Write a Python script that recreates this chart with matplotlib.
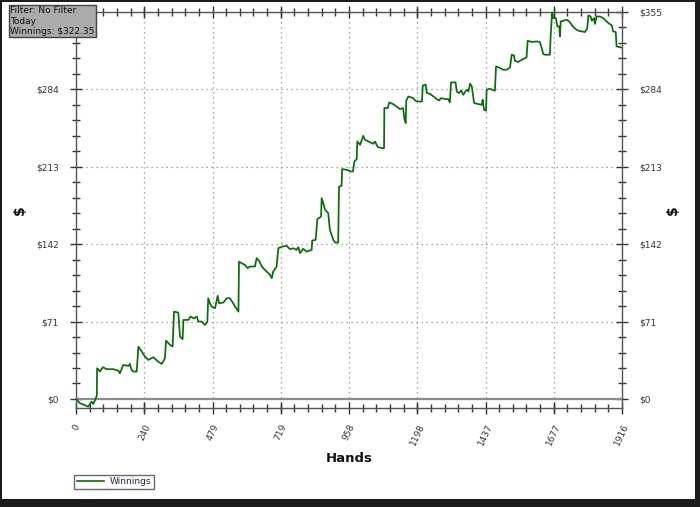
import matplotlib.pyplot as plt
from matplotlib.patches import Rectangle
from matplotlib.lines import Line2D
from matplotlib.ticker import FixedLocator, MultipleLocator

# cumulative winnings, hand number vs dollars
hands = [0, 14, 43, 49, 55, 61, 67, 73, 74, 84, 94, 108, 131, 148, 154, 166, 184, 189, 195, 201,
         213, 219, 231, 242, 254, 271, 289, 301, 312, 316, 330, 339, 344, 359, 365, 374, 377, 394,
         402, 414, 424, 429, 441, 453, 461, 464, 470, 476, 488, 497, 502, 517, 529, 540, 548, 558,
         570, 572, 581, 593, 602, 611, 628, 634, 642, 652, 663, 681, 687, 692, 704, 710, 724, 739,
         751, 762, 774, 780, 786, 797, 810, 827, 829, 841, 847, 860, 862, 868, 874, 885, 891, 903,
         909, 920, 923, 932, 934, 950, 965, 972, 977, 985, 987, 997, 1008, 1014, 1026, 1043, 1049,
         1059, 1073, 1081, 1082, 1094, 1099, 1113, 1125, 1137, 1148, 1152, 1157, 1159, 1166, 1184,
         1190, 1199, 1214, 1217, 1227, 1231, 1242, 1254, 1266, 1274, 1281, 1295, 1306, 1312, 1316,
         1332, 1336, 1344, 1351, 1359, 1371, 1377, 1383, 1389, 1397, 1412, 1424, 1427, 1432, 1439,
         1441, 1453, 1470, 1474, 1488, 1499, 1511, 1523, 1529, 1537, 1540, 1552, 1564, 1581, 1585,
         1599, 1617, 1628, 1634, 1640, 1646, 1663, 1666, 1671, 1674, 1684, 1689, 1696, 1698, 1701,
         1710, 1722, 1731, 1739, 1751, 1763, 1775, 1786, 1794, 1798, 1806, 1810, 1818, 1821, 1827,
         1839, 1850, 1856, 1868, 1880, 1885, 1894, 1897, 1916]
winnings = [0, -3.9, -7.1, -4.6, -2.5, -4.6, -0.9, 3.0, 28.2, 25.1, 29.1, 27.3, 27.3, 26.0, 23.6,
            31.2, 30.3, 32.1, 26.6, 25.1, 25.1, 48.0, 43.4, 38.8, 35.8, 38.3, 34.2, 32.1, 37.4,
            53.5, 49.6, 48.0, 80.1, 79.2, 57.2, 54.8, 72.5, 72.5, 75.6, 73.9, 75.6, 71.0, 71.0,
            67.9, 71.0, 92.4, 87.9, 84.7, 83.3, 94.6, 87.9, 88.4, 92.4, 92.4, 89.3, 84.7, 80.1,
            126.0, 124.6, 123.0, 120.0, 121.5, 121.5, 129.2, 127.0, 121.5, 118.4, 113.8, 110.8,
            116.9, 121.5, 138.3, 139.8, 140.5, 137.4, 138.3, 136.8, 139.3, 133.8, 137.7, 135.2,
            136.8, 145.3, 146.0, 165.0, 167.3, 184.2, 179.6, 173.5, 170.5, 155.1, 146.0, 143.5,
            143.5, 194.9, 195.5, 210.9, 210.2, 208.7, 208.7, 217.8, 220.0, 236.2, 233.2, 241.4,
            237.8, 236.2, 234.1, 236.2, 231.1, 230.1, 230.1, 266.9, 266.9, 272.0, 270.5, 268.3,
            265.9, 266.9, 257.7, 253.1, 273.8, 277.5, 276.0, 273.8, 272.9, 272.9, 287.6, 288.3,
            280.6, 280.0, 277.5, 275.1, 273.8, 276.0, 275.1, 275.1, 272.0, 290.4, 290.4, 282.1,
            280.6, 283.0, 279.1, 283.7, 282.1, 289.2, 286.7, 271.5, 270.5, 269.9, 274.5, 265.3,
            264.4, 283.7, 284.6, 282.7, 305.1, 303.6, 302.0, 302.0, 304.1, 315.8, 315.2, 310.3,
            309.1, 311.2, 313.3, 328.6, 327.5, 328.0, 327.5, 322.0, 316.4, 315.8, 315.8, 334.8,
            355.0, 349.4, 349.4, 341.8, 341.8, 332.6, 346.3, 347.0, 347.9, 346.3, 343.3, 339.7,
            337.8, 337.2, 336.6, 339.7, 351.9, 350.9, 347.0, 349.4, 344.0, 350.9, 350.9, 349.4,
            347.9, 344.9, 342.7, 337.2, 336.6, 323.4, 322.35]

x_ticks = [0, 240, 479, 719, 958, 1198, 1437, 1677, 1916]
y_ticks = [0, 71, 142, 213, 284, 355]
y_labels = ['$0', '$71', '$142', '$213', '$284', '$355']
info_text = 'Filter: No Filter\nToday\nWinnings: $322.35'

W, H = 700, 507
fig = plt.figure(figsize=(7, 5.07), dpi=100)
fig.patch.set_facecolor('white')
ax = fig.add_axes([76 / W, 1 - 408 / H, (622 - 76) / W, (408 - 12) / H])

line_color = '#0b6b0b'
ax.plot(hands, winnings, color=line_color, lw=1.25, zorder=3)
ax.axhline(0, color='#8c8c8c', lw=1.6, zorder=2)

ax.set_xlim(0, 1916)
ax.set_ylim(-8.3, 355)

ax.xaxis.set_major_locator(FixedLocator(x_ticks))
ax.xaxis.set_minor_locator(MultipleLocator(1916 / 40))
ax.yaxis.set_major_locator(FixedLocator(y_ticks))
ax.yaxis.set_minor_locator(MultipleLocator(14.2))
ax.set_xticklabels([str(t) for t in x_ticks], rotation=65, ha='center', va='top',
                   fontsize=6.5, color='#333333')
ax.set_yticklabels(y_labels, fontsize=6.5, color='#333333')

ax.grid(True, which='major', color='#8a8a8a', lw=0.9, linestyle=(0, (1, 3)))

for s in ax.spines.values():
    s.set_color('#555555')
    s.set_linewidth(1.0)

ax.tick_params(axis='both', which='major', direction='inout', length=9, width=1,
               color='#333333', top=True, right=True, labelright=True, pad=4)
ax.tick_params(axis='both', which='minor', direction='inout', length=6, width=1,
               color='#333333', top=True, right=True)
ax.tick_params(axis='x', which='both', pad=6)
ax.tick_params(axis='y', which='major', labelright=True, pad=8)

# the top left label sits under the info box in the original
ax.yaxis.get_major_ticks()[-1].label1.set_visible(False)

fig.text(349 / W, 1 - 458 / H, 'Hands', ha='center', va='center', fontsize=9.5,
         fontweight='bold', color='#111111')
fig.text(20 / W, 1 - 210 / H, '$', ha='center', va='center', rotation=90, fontsize=10,
         fontweight='bold', color='#111111')
fig.text(673 / W, 1 - 210 / H, '$', ha='center', va='center', rotation=90, fontsize=10,
         fontweight='bold', color='#111111')

# info box at top left
fig.text(10 / W, 1 - 21 / H, info_text, ha='left', va='center', fontsize=6.5,
         color='#111111', linespacing=1.2, zorder=20,
         bbox=dict(boxstyle='square,pad=0.15', facecolor='#ababab', edgecolor='#444444', lw=1))

# legend box
leg = fig.legend(handles=[Line2D([], [], color=line_color, lw=1.2, label='Winnings')],
                 loc='lower left', bbox_to_anchor=(74 / W, 1 - 489 / H), fontsize=6.5,
                 frameon=True, fancybox=False, handlelength=3.0, borderpad=0.3,
                 handletextpad=0.7, borderaxespad=0)
leg.get_frame().set_edgecolor('#444444')
leg.get_frame().set_linewidth(1.0)
for t in leg.get_texts():
    t.set_color('#222244')

# dark window frame
frame = dict(transform=fig.transFigure, facecolor='#1c1c1c', edgecolor='none', zorder=10)
fig.patches.append(Rectangle((0, 1 - 2 / H), 1, 2 / H, **frame))
fig.patches.append(Rectangle((695 / W, 0), 5 / W, 1, **frame))
fig.patches.append(Rectangle((0, 0), 1, 8 / H, **frame))
fig.patches.append(Rectangle((0, 0), 1.5 / W, 1, **frame))

fig.savefig('out.png', dpi=100)
